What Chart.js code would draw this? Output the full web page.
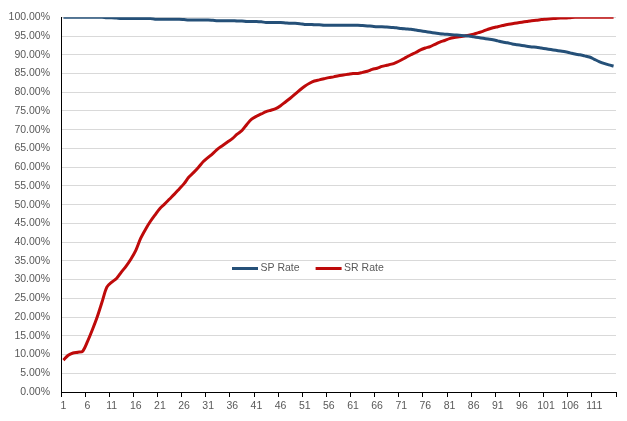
<!DOCTYPE html>
<html>
<head>
<meta charset="utf-8">
<script src="https://cdn.jsdelivr.net/npm/chart.js@4.4.1/dist/chart.umd.min.js"></script>
<style>
  html, body { margin: 0; padding: 0; background: #fff; }
  #wrap { width: 627px; height: 421px; }
</style>
</head>
<body>
<div id="wrap"><canvas id="c" width="627" height="421"></canvas></div>
<script>
// ---- data ----
const categories = [];
for (let i = 1; i <= 115; i++) categories.push(String(i));

const seriesNames = ["SP Rate", "SR Rate"];

const spRate = [
  100.0,100.0,100.0,100.0,100.0,100.0,100.0,100.0,100.0,99.9,
  99.9,99.8,99.7,99.7,99.7,99.7,99.7,99.7,99.7,99.5,
  99.5,99.5,99.5,99.5,99.5,99.4,99.3,99.3,99.3,99.3,
  99.3,99.2,99.1,99.1,99.1,99.1,99.0,99.0,98.9,98.9,
  98.9,98.8,98.6,98.6,98.6,98.6,98.5,98.4,98.4,98.3,
  98.1,98.1,98.0,98.0,97.9,97.9,97.9,97.9,97.9,97.9,
  97.9,97.9,97.8,97.7,97.6,97.5,97.5,97.4,97.3,97.2,
  97.0,96.9,96.8,96.6,96.4,96.2,96.0,95.8,95.6,95.5,
  95.4,95.3,95.2,95.1,95.0,94.8,94.6,94.4,94.2,94.0,
  93.7,93.4,93.2,92.9,92.7,92.5,92.3,92.1,92.0,91.8,
  91.6,91.4,91.2,91.0,90.8,90.5,90.2,90.0,89.7,89.4,
  88.8,88.2,87.7,87.3,87.0
];

const srRate = [
  8.5,9.8,10.4,10.6,10.9,13.5,16.6,20.0,24.0,28.0,
  29.3,30.3,32.0,33.6,35.5,37.8,41.0,43.4,45.5,47.3,
  49.0,50.2,51.5,52.8,54.2,55.6,57.4,58.6,60.0,61.5,
  62.6,63.7,64.9,65.8,66.7,67.6,68.8,69.8,71.4,72.8,
  73.6,74.2,74.8,75.2,75.6,76.4,77.4,78.4,79.5,80.6,
  81.6,82.4,83.0,83.3,83.6,83.9,84.1,84.4,84.6,84.8,
  85.0,85.0,85.3,85.6,86.1,86.4,86.9,87.2,87.5,88.0,
  88.6,89.3,90.0,90.6,91.3,91.8,92.2,92.8,93.4,93.8,
  94.3,94.6,94.8,95.0,95.2,95.5,95.9,96.3,96.8,97.2,
  97.5,97.8,98.1,98.3,98.5,98.7,98.9,99.1,99.2,99.4,
  99.5,99.6,99.7,99.8,99.8,99.9,100.0,100.0,100.0,100.0,
  100.0,100.0,100.0,100.0,100.0
];

const yTickStep = 5;
const xLabelEvery = 5;

// ---- styles ----
const FONT = { family: "'Liberation Sans', Arial, sans-serif", size: 10.5 };
const TEXT = '#595959';
const colors = ['#255078', '#BE0A0A'];

// custom in-chart legend (Excel style, placed inside plot area)
const innerLegend = {
  id: 'innerLegend',
  afterDraw(chart) {
    const ctx = chart.ctx;
    const y = 268.5;
    let x = 232;
    ctx.save();
    ctx.font = FONT.size + 'px ' + FONT.family;
    ctx.textBaseline = 'middle';
    chart.data.datasets.forEach((ds) => {
      ctx.strokeStyle = ds.borderColor;
      ctx.lineWidth = 3;
      ctx.beginPath();
      ctx.moveTo(x, y);
      ctx.lineTo(x + 26, y);
      ctx.stroke();
      ctx.fillStyle = TEXT;
      ctx.fillText(ds.label, x + 28.5, y);
      x += 28.5 + ctx.measureText(ds.label).width + 16;
    });
    ctx.restore();
  }
};

const whiteBg = {
  id: 'whiteBg',
  beforeDraw(chart) {
    const ctx = chart.ctx;
    ctx.save();
    ctx.fillStyle = '#fff';
    ctx.fillRect(0, 0, chart.width, chart.height);
    ctx.restore();
  }
};

new Chart(document.getElementById('c'), {
  type: 'line',
  data: {
    labels: categories,
    datasets: [
      { label: seriesNames[0], data: spRate, borderColor: colors[0], backgroundColor: colors[0],
        borderWidth: 3, pointRadius: 0, tension: 0.3, fill: false },
      { label: seriesNames[1], data: srRate, borderColor: colors[1], backgroundColor: colors[1],
        borderWidth: 3, pointRadius: 0, tension: 0.3, fill: false }
    ]
  },
  options: {
    responsive: false,
    animation: false,
    devicePixelRatio: 1,
    layout: { padding: { top: 12, right: 11, bottom: 0, left: 0 } },
    plugins: {
      legend: { display: false },
      tooltip: { enabled: false }
    },
    scales: {
      x: {
        type: 'category',
        offset: true,
        afterFit(scale) { scale.height = 29; },
        grid: {
          offset: true,
          drawOnChartArea: false,
          drawTicks: true,
          tickLength: 5,
          lineWidth: 1,
          color: (c) => (c.type !== 'tick' || c.index % xLabelEvery === 0) ? '#000' : 'rgba(0,0,0,0)'
        },
        border: { display: true, color: '#000', width: 1 },
        ticks: {
          autoSkip: false,
          maxRotation: 0,
          minRotation: 0,
          padding: 3,
          color: TEXT,
          font: FONT,
          callback: (v, i) => (i % xLabelEvery === 0 ? categories[i] : '')
        }
      },
      y: {
        min: 0,
        max: 100,
        afterFit(scale) { scale.width = 61; },
        grid: { color: '#D9D9D9', lineWidth: 1, drawTicks: false },
        border: { display: true, color: '#000', width: 1 },
        ticks: {
          stepSize: yTickStep,
          padding: 11,
          color: TEXT,
          font: FONT,
          callback: (v) => Number(v).toFixed(2) + '%'
        }
      }
    }
  },
  plugins: [whiteBg, innerLegend]
});
</script>
</body>
</html>
